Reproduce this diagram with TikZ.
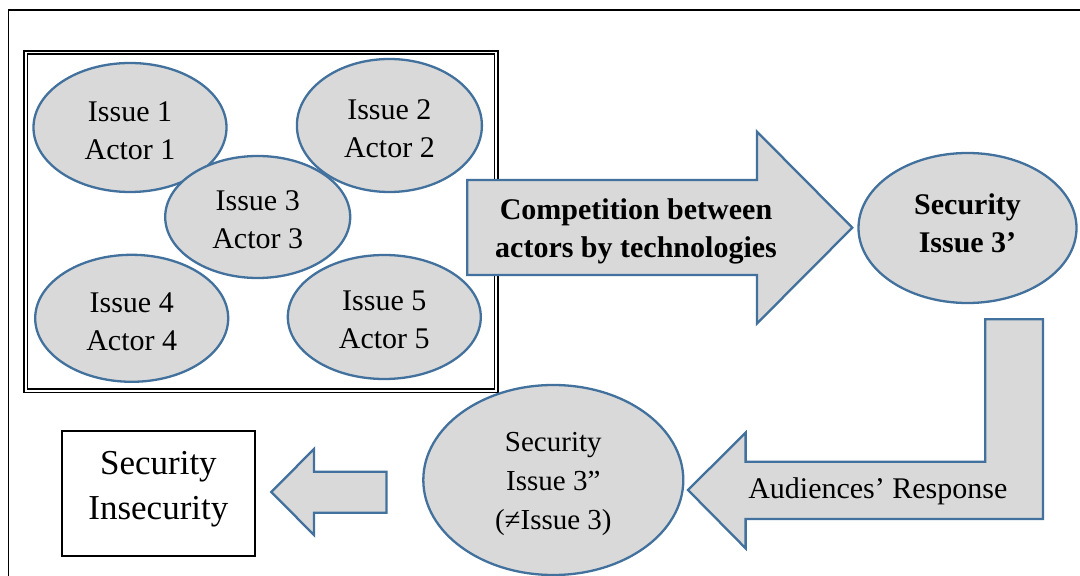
\documentclass[tikz,border=0pt]{standalone}
\usepackage{fontspec}
\setmainfont{Liberation Serif}
\usetikzlibrary{shapes.geometric}
\definecolor{shapefill}{RGB}{217,217,217}
\definecolor{shapeline}{RGB}{65,113,156}
\begin{document}
\begin{tikzpicture}[x=0.5pt,y=-0.5pt,
  blob/.style={ellipse, draw=shapeline, fill=shapefill, line width=1.15pt, inner sep=0pt},
  txt/.style={align=center, inner sep=0pt, font=\fontsize{15}{19}\selectfont},
  blockarrow/.style={draw=shapeline, fill=shapefill, line width=1.15pt, line join=miter},
  frameline/.style={draw=black, line width=0.7pt}]
\useasboundingbox (0,0) rectangle (1080,576);
\fill[white] (0,0) rectangle (1080,576);
% outer frame
\draw[frameline] (1095,10) -- (8.6,10) -- (8.6,595);
% double box
\draw[frameline] (24,51) rectangle (498,392.5);
\draw[frameline] (27.5,54) rectangle (494.5,389);
% issue ellipses
\node[blob, minimum width=96.5pt, minimum height=64.5pt] (i1) at (130,127.5) {};
\node[txt] (i1t) at ([yshift=-1.5pt]i1.center) {Issue 1\\Actor 1};
\node[blob, minimum width=92.5pt, minimum height=66.5pt] (i2) at (389.4,125.5) {};
\node[txt] (i2t) at ([yshift=-1.5pt]i2.center) {Issue 2\\Actor 2};
\node[blob, minimum width=92.5pt, minimum height=61pt] (i3) at (257.7,217) {};
\node[txt] (i3t) at ([yshift=-1.5pt]i3.center) {Issue 3\\Actor 3};
\node[blob, minimum width=96.5pt, minimum height=63.5pt] (i4) at (131.7,318.3) {};
\node[txt] (i4t) at ([yshift=-1.5pt]i4.center) {Issue 4\\Actor 4};
\node[blob, minimum width=96.5pt, minimum height=62pt] (i5) at (384.3,317) {};
\node[txt] (i5t) at ([yshift=-1.5pt]i5.center) {Issue 5\\Actor 5};
% competition arrow
\draw[blockarrow] (467.3,180) -- (757,180) -- (757,131.7) -- (852.3,227.7) -- (757,323.5) -- (757,275) -- (467.3,275) -- cycle;
\node[txt, font=\bfseries\fontsize{15}{19}\selectfont] (comp) at (636,231) {Competition between\\actors by technologies};
% security issue 3'
\node[blob, minimum width=109pt, minimum height=75pt] (s1) at (967.5,228) {};
\node[txt, font=\bfseries\fontsize{15}{19}\selectfont] (s1t) at ([yshift=2.25pt]s1.center) {Security\\Issue 3’};
% bent arrow
\draw[blockarrow] (688,490) -- (745.6,432.7) -- (745.6,461.7) -- (985.2,461.7) -- (985.2,319.3) -- (1043,319.3) -- (1043,519) -- (745.6,519) -- (745.6,548.3) -- cycle;
\node[txt] (aud) at (877.8,491) {Audiences’ Response};
% security issue 3''
\node[blob, minimum width=130pt, minimum height=95pt] (s2) at (553.3,480) {};
\node[txt, font=\fontsize{14.5}{19.5}\selectfont] (s2t) at ([yshift=-1.75pt]s2.center) {Security\\Issue 3”\\(≠Issue 3)};
% small arrow
\draw[blockarrow] (271.3,492) -- (314,449) -- (314,471.7) -- (386.4,471.7) -- (386.4,512.7) -- (314,512.7) -- (314,535) -- cycle;
% result box
\node[draw=black, line width=0.75pt, minimum width=96.4pt, minimum height=62.4pt, inner sep=0pt] (res) at (158.4,493.4) {};
\node[txt, font=\fontsize{17.5}{22.5}\selectfont] (rest) at ([yshift=2.25pt]res.center) {Security\\Insecurity};
\end{tikzpicture}
\end{document}
